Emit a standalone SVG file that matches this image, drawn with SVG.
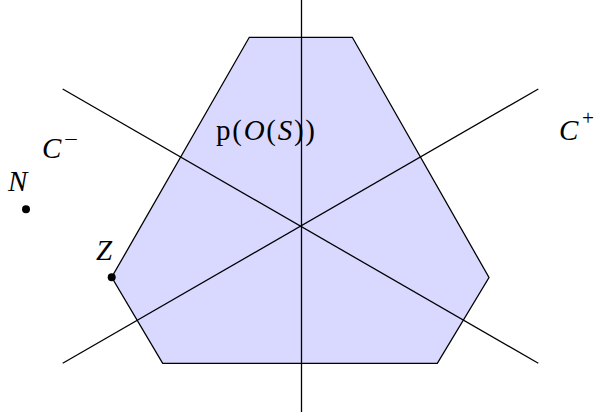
<svg xmlns="http://www.w3.org/2000/svg" width="594" height="414" viewBox="0 0 594 414">
<style>
.ln{stroke:#000;stroke-width:1.3;fill:none}
.poly{fill:#d9d9ff;stroke:#000;stroke-width:1.3;stroke-linejoin:miter}
.t{font-family:"Liberation Serif",serif;font-size:29px;fill:#000}
.it{font-style:italic}
.sup{font-size:20px;font-style:normal}
.dot{fill:#000}
</style>
<rect width="594" height="414" fill="#fff"/>
<g id="hexagon">
<polygon class="poly" points="249.3,37.3 352.3,37.3 489,277.5 437.3,363.3 162.7,363.3 111.7,277.3"/>
<text class="t" x="216" y="140" textLength="99" lengthAdjust="spacing">p(<tspan class="it">O</tspan>(<tspan class="it">S</tspan>))</text>
</g>
<g id="connectors">
<line class="ln" x1="301.5" y1="0" x2="301.5" y2="412"/>
<line class="ln" x1="62.7" y1="89" x2="538.3" y2="363.3"/>
<line class="ln" x1="62.7" y1="363.3" x2="538.3" y2="89"/>
</g>
<g id="C-minus">
<text class="t it" x="42" y="158">C</text>
<text class="t sup" x="64" y="146" textLength="14" lengthAdjust="spacingAndGlyphs">−</text>
</g>
<g id="C-plus">
<text class="t it" x="559" y="139.5">C</text>
<text class="t sup" x="582" y="125" font-size="23" textLength="12" lengthAdjust="spacingAndGlyphs">+</text>
</g>
<g id="N">
<text class="t it" x="8" y="191">N</text>
<circle class="dot" cx="26" cy="209.3" r="4"/>
</g>
<g id="Z">
<text class="t it" x="96" y="260">Z</text>
<circle class="dot" cx="111.7" cy="277.3" r="4"/>
</g>
</svg>
